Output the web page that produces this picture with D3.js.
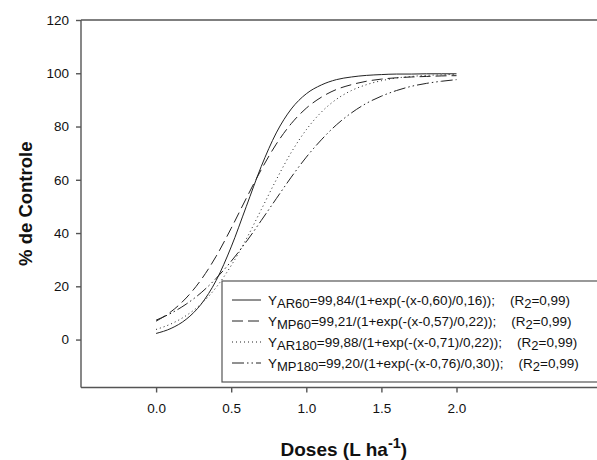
<!DOCTYPE html>
<html>
<head>
<meta charset="utf-8">
<script src="https://cdn.jsdelivr.net/npm/d3@7"></script>
<style>
  body { margin: 0; background: #fff; }
  svg { display: block; font-family: Arial, 'Liberation Sans', sans-serif; }
</style>
</head>
<body>
<svg id="chart" width="597" height="460"></svg>
<script>

////////// Dados

const doses = [0.0, 0.1, 0.2, 0.3, 0.4, 0.5, 0.6, 0.7, 0.8, 0.9, 1.0,
               1.1, 1.2, 1.3, 1.4, 1.5, 1.6, 1.7, 1.8, 1.9, 2.0];

const ar60  = [2.3, 4.2, 7.6, 13.3, 22.2, 34.8, 49.9, 65.0, 77.6, 86.6, 92.3,
               95.6, 97.6, 98.6, 99.2, 99.5, 99.7, 99.7, 99.8, 99.8, 99.8];
const mp60  = [6.9, 10.5, 15.6, 22.5, 31.3, 41.8, 53.0, 63.8, 73.4, 81.1, 86.9,
               91.0, 93.9, 95.7, 97.0, 97.8, 98.3, 98.6, 98.8, 99.0, 99.1];
const ar180 = [3.8, 5.9, 9.0, 13.4, 19.6, 27.8, 37.7, 48.8, 60.0, 70.3, 78.8,
               85.4, 90.2, 93.5, 95.7, 97.2, 98.2, 98.8, 99.2, 99.4, 99.6];
const mp180 = [7.3, 9.9, 13.3, 17.6, 23.0, 29.4, 36.7, 44.7, 52.9, 61.0, 68.5,
               75.0, 80.6, 85.1, 88.7, 91.4, 93.5, 95.1, 96.2, 97.0, 97.6];

const series   = ['AR60', 'MP60', 'AR180', 'MP180'];
const equacoes = ['=99,84/(1+exp(-(x-0,60)/0,16));',
                  '=99,21/(1+exp(-(x-0,57)/0,22));',
                  '=99,88/(1+exp(-(x-0,71)/0,22));',
                  '=99,20/(1+exp(-(x-0,76)/0,30));'];
const r2       = ['0,99', '0,99', '0,99', '0,99'];

const yTicks = [0, 20, 40, 60, 80, 100, 120];
const xTicks = [0.0, 0.5, 1.0, 1.5, 2.0];

////////// Layout

const svg = d3.select('#chart');

const mLeft = 81, mTop = 20, mBottom = 387.5, mRight = 606.7;

const x = d3.scaleLinear()
    .domain([-0.5, 3.0])
    .range([mLeft, mRight]);

const y = d3.scaleLinear()
    .domain([-18, 120])
    .range([mBottom, mTop]);

// estilos de linha para cada serie
const dashes = ['none', '11,5', '1,3', '12,3,1.5,3,1.5,3'];
const valores = [ar60, mp60, ar180, mp180];

////////// Eixos

const yAxis = svg.append('g')
    .attr('transform', 'translate(' + mLeft + ',0)')
    .call(d3.axisLeft(y).tickValues(yTicks).tickSize(5).tickSizeOuter(0).tickPadding(7))
    ;

const xAxis = svg.append('g')
    .attr('transform', 'translate(0,' + mBottom + ')')
    .call(d3.axisBottom(x).tickValues(xTicks).tickFormat(d3.format('.1f')).tickSize(5).tickSizeOuter(0).tickPadding(11))
    ;

// limita os eixos ao quadro
yAxis.select('.domain').attr('d', 'M0,' + y(-18) + 'V' + y(120));
xAxis.select('.domain').attr('d', 'M' + mLeft + ',0H' + mRight);

[yAxis, xAxis].forEach(function(ax) {
  ax.selectAll('.domain, .tick line')
    .attr('stroke', '#555')
    .attr('stroke-width', 1.4)
    ;
  ax.selectAll('.tick text')
    .attr('fill', '#111')
    .style('font-size', '13.5px')
    ;
});

// linha superior do quadro
svg.append('line')
    .attr('x1', mLeft)
    .attr('x2', mRight)
    .attr('y1', y(120))
    .attr('y2', y(120))
    .attr('stroke', '#555')
    .attr('stroke-width', 1.4)
    ;

////////// Curvas

const line = d3.line()
    .x((d, i) => x(doses[i]))
    .y(d => y(d))
    .curve(d3.curveMonotoneX)
    ;

svg.append('g')
    .selectAll('path')
    .data(valores)
    .join('path')
    .attr('d', line)
    .attr('fill', 'none')
    .attr('stroke', '#222')
    .attr('stroke-width', 1)
    .attr('stroke-dasharray', (d, i) => dashes[i])
    ;

////////// Legenda

const legendTop = 281;
const legend = svg.append('g');

legend.append('rect')
    .attr('x', 222)
    .attr('y', legendTop)
    .attr('width', 400)
    .attr('height', 101)
    .attr('fill', '#fff')
    .attr('stroke', '#555')
    .attr('stroke-width', 1.2)
    ;

const rows = legend.selectAll('g.row')
    .data(series)
    .join('g')
    .attr('class', 'row')
    .attr('transform', (d, i) => 'translate(0,' + (legendTop + 19 + i * 21) + ')')
    ;

rows.append('line')
    .attr('x1', 232)
    .attr('x2', 261)
    .attr('stroke', '#222')
    .attr('stroke-width', 1)
    .attr('stroke-dasharray', (d, i) => dashes[i])
    ;

const txt = rows.append('text')
    .attr('x', 268)
    .attr('y', 0)
    .attr('dy', '0.35em')
    .style('font-size', '13.5px')
    .attr('fill', '#111')
    ;

txt.append('tspan').text('Y');
txt.append('tspan').attr('dy', 3).style('font-size', '13px').text(d => d);
txt.append('tspan').attr('dy', -3).text((d, i) => equacoes[i] + '\u00a0\u00a0\u00a0\u00a0(R');
txt.append('tspan').attr('dy', 3).style('font-size', '13px').text('2');
txt.append('tspan').attr('dy', -3).text((d, i) => '=' + r2[i] + ')');

////////// Titulos

svg.append('text')
    .attr('transform', 'translate(32,' + ((mTop + mBottom) / 2) + ') rotate(-90)')
    .attr('text-anchor', 'middle')
    .style('font-size', '18.5px')
    .style('font-weight', 'bold')
    .attr('fill', '#111')
    .text('% de Controle')
    ;

const xt = svg.append('text')
    .attr('x', (mLeft + mRight) / 2)
    .attr('y', 456)
    .attr('text-anchor', 'middle')
    .style('font-size', '19px')
    .style('font-weight', 'bold')
    .attr('fill', '#111')
    ;

xt.append('tspan').text('Doses (L ha');
xt.append('tspan').attr('dy', -8).style('font-size', '14.5px').text('-1');
xt.append('tspan').attr('dy', 8).text(')');

</script>
</body>
</html>
